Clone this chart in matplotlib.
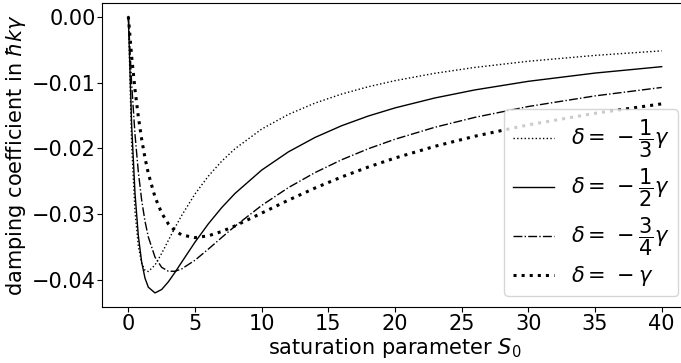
import matplotlib
matplotlib.use('Agg')
import matplotlib.pyplot as plt

# saturation parameter S0 (read along the x axis)
s0 = [0, 0.25, 0.5, 0.75, 1, 1.25, 1.5, 2, 2.5, 3, 3.5, 4, 5, 6, 7, 8,
      10, 12, 14, 16, 18, 20, 23, 26, 30, 35, 40]

# damping coefficient in hbar k gamma, one list per detuning
d_third = [0, -0.01946, -0.02955, -0.03480, -0.03740, -0.03848, -0.03866,
           -0.03767, -0.03591, -0.03394, -0.03199, -0.03016, -0.02690,
           -0.02419, -0.02194, -0.02004, -0.01706, -0.01484, -0.01312,
           -0.01175, -0.01064, -0.00972, -0.00860, -0.00771, -0.00678,
           -0.00589, -0.00520]
d_half = [0, -0.01655, -0.02682, -0.03324, -0.03724, -0.03967, -0.04104,
          -0.04190, -0.04138, -0.04022, -0.03878, -0.03724, -0.03420,
          -0.03143, -0.02897, -0.02682, -0.02328, -0.02052, -0.01833,
          -0.01655, -0.01508, -0.01385, -0.01234, -0.01112, -0.00982,
          -0.00857, -0.00760]
d_3q = [0, -0.01026, -0.01788, -0.02357, -0.02784, -0.03104, -0.03343,
        -0.03648, -0.03802, -0.03861, -0.03862, -0.03826, -0.03694,
        -0.03526, -0.03350, -0.03178, -0.02864, -0.02594, -0.02366,
        -0.02171, -0.02004, -0.01860, -0.01678, -0.01528, -0.01364,
        -0.01203, -0.01075]
d_one = [0, -0.00608, -0.01108, -0.01521, -0.01862, -0.02145, -0.02380,
         -0.02736, -0.02980, -0.03143, -0.03248, -0.03311, -0.03352,
         -0.03324, -0.03259, -0.03174, -0.02980, -0.02784, -0.02600,
         -0.02432, -0.02281, -0.02145, -0.01967, -0.01814, -0.01642,
         -0.01467, -0.01324]

# thin space keeps the minus apart from the equals sign, as in the reference
labels = [r'$\delta = \,-\dfrac{1}{3}\gamma$', r'$\delta = \,-\dfrac{1}{2}\gamma$',
          r'$\delta = \,-\dfrac{3}{4}\gamma$', r'$\delta = \,-\gamma$']

plt.rcParams['font.size'] = 15

fig = plt.figure(figsize=(6.81, 3.63), dpi=100)
# the original picture is cropped: the right spine lies past the edge
ax = fig.add_axes([0.1493, 0.155, 0.8615, 0.8375])

ax.plot(s0, d_third, color='black', linestyle=':', linewidth=1.0, label=labels[0])
ax.plot(s0, d_half, color='black', linestyle='-', linewidth=1.0, label=labels[1])
ax.plot(s0, d_3q, color='black', linestyle='-.', linewidth=1.0, label=labels[2])
ax.plot(s0, d_one, color='black', linestyle=':', linewidth=2.2, label=labels[3])

ax.set_xticks([0, 5, 10, 15, 20, 25, 30, 35, 40])
ax.set_yticks([0.0, -0.01, -0.02, -0.03, -0.04])
ax.tick_params(axis='x', pad=1.5)
ax.tick_params(axis='y', pad=0.8)
ax.set_xlabel(r'saturation parameter $S_0$', labelpad=2)
ax.set_ylabel(r'damping coefficient in $\hbar k\gamma$', labelpad=2.5)
ax.legend(loc='lower right', labelspacing=0.3)

fig.savefig('out.png', dpi=100)
